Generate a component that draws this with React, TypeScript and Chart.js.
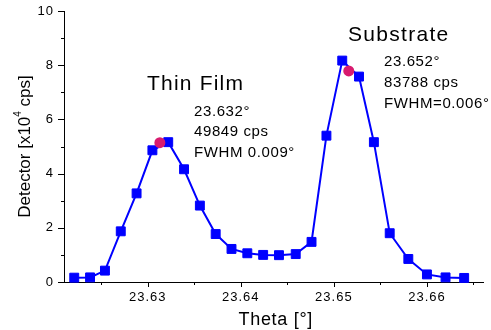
import React, { useEffect, useRef } from 'react';
import { Chart, registerables } from 'chart.js';

Chart.register(...registerables);

// ---- data ----
const thetaValues = [
  23.6221, 23.6238, 23.6254, 23.6271, 23.6288, 23.6305, 23.6322, 23.6339,
  23.6356, 23.6373, 23.639, 23.6407, 23.6424, 23.6441, 23.6459, 23.6476,
  23.6492, 23.6509, 23.6527, 23.6543, 23.656, 23.658, 23.66, 23.662, 23.664,
];
const detectorValues = [
  0.16, 0.17, 0.42, 1.87, 3.27, 4.86, 5.16, 4.16, 2.82, 1.77, 1.22, 1.06, 1.0,
  0.99, 1.03, 1.48, 5.4, 8.17, 7.58, 5.16, 1.8, 0.85, 0.28, 0.17, 0.15,
];
const peakTheta = [23.6313, 23.6516];
const peakDetector = [5.14, 7.79];

const xTickValues = [23.625, 23.63, 23.635, 23.64, 23.645, 23.65, 23.655, 23.66, 23.665];
const xTickLabels = ['23.63', '23.64', '23.65', '23.66'];
const yTickValues = [0, 1, 2, 3, 4, 5, 6, 7, 8, 9, 10];
const yTickLabels = ['0', '2', '4', '6', '8', '10'];

const thinFilmText = ['Thin Film', '23.632°', '49849 cps', 'FWHM 0.009°'];
const substrateText = ['Substrate', '23.652°', '83788 cps', 'FWHM=0.006°'];

// ---- style ----
const X_MIN = 23.621;
const X_MAX = 23.6661;
const BLUE = '#0000ff';
const PINK = '#d81b6f';
const FONT = '"Liberation Sans", Arial, sans-serif';

const xLabelOf = (v: number) => {
  const s = v.toFixed(2);
  return Math.abs(parseFloat(s) - v) < 1e-7 && xTickLabels.includes(s) ? s : '';
};
const yLabelOf = (v: number) => (yTickLabels.includes(String(v)) ? String(v) : '');

const drawSpaced = (
  ctx: CanvasRenderingContext2D,
  text: string,
  x: number,
  y: number,
  size: number,
  spacing: number
) => {
  ctx.font = `${size}px ${FONT}`;
  (ctx as any).letterSpacing = `${spacing}px`;
  ctx.fillText(text, x, y);
};

const zeroPad = (s: any) => {
  s.paddingTop = 0;
  s.paddingBottom = 0;
  s.paddingLeft = 0;
  s.paddingRight = 0;
};

const decorPlugin = {
  id: 'decor',
  beforeDraw(chart: any) {
    (chart.ctx as any).letterSpacing = '1px';
  },
  beforeDatasetsDraw(chart: any) {
    (chart.ctx as any).letterSpacing = '0px';
  },
  afterDraw(chart: any) {
    const ctx: CanvasRenderingContext2D = chart.ctx;
    const xs = chart.scales.x;
    const ys = chart.scales.y;
    ctx.save();
    ctx.strokeStyle = '#000';
    ctx.lineWidth = 1;
    // tick marks (major / minor)
    for (const t of xs.ticks) {
      const px = Math.round(xs.getPixelForValue(t.value)) + 0.5;
      const len = xLabelOf(t.value) ? 5 : 3;
      ctx.beginPath();
      ctx.moveTo(px, xs.top);
      ctx.lineTo(px, xs.top + len);
      ctx.stroke();
    }
    for (const t of ys.ticks) {
      const py = Math.round(ys.getPixelForValue(t.value)) + 0.5;
      const len = yLabelOf(t.value) ? 6 : 3;
      ctx.beginPath();
      ctx.moveTo(ys.right - len, py);
      ctx.lineTo(ys.right, py);
      ctx.stroke();
    }

    ctx.fillStyle = '#000';
    ctx.textAlign = 'left';
    ctx.textBaseline = 'alphabetic';

    // annotations
    drawSpaced(ctx, thinFilmText[0], 147, 89.5, 21, 1.2);
    drawSpaced(ctx, thinFilmText[1], 194, 115.5, 15, 0.6);
    drawSpaced(ctx, thinFilmText[2], 194, 136, 15, 0.6);
    drawSpaced(ctx, thinFilmText[3], 194, 157, 15, 0.6);
    drawSpaced(ctx, substrateText[0], 348, 41, 21, 1.3);
    drawSpaced(ctx, substrateText[1], 384, 65.5, 15, 0.6);
    drawSpaced(ctx, substrateText[2], 384, 86.5, 15, 0.6);
    drawSpaced(ctx, substrateText[3], 384, 107.5, 15, 0.6);

    // x title
    drawSpaced(ctx, 'Theta [°]', 238.5, 325, 18, 0.7);

    // y title with superscript
    (ctx as any).letterSpacing = '0px';
    const part1 = 'Detector [x10';
    const sup = '4';
    const part2 = ' cps]';
    ctx.font = `17px ${FONT}`;
    const w1 = ctx.measureText(part1).width;
    const w3 = ctx.measureText(part2).width;
    ctx.font = `10px ${FONT}`;
    const w2 = ctx.measureText(sup).width;
    const total = w1 + w2 + w3;
    const cy = (chart.chartArea.top + chart.chartArea.bottom) / 2;
    ctx.translate(29.5, cy);
    ctx.rotate(-Math.PI / 2);
    let x0 = -total / 2;
    ctx.font = `17px ${FONT}`;
    ctx.fillText(part1, x0, 0);
    x0 += w1;
    ctx.font = `10px ${FONT}`;
    ctx.fillText(sup, x0, -8.5);
    x0 += w2;
    ctx.font = `17px ${FONT}`;
    ctx.fillText(part2, x0, 0);
    ctx.restore();
  },
};

export default function App() {
  const ref = useRef<HTMLCanvasElement>(null);

  useEffect(() => {
    const canvas = ref.current;
    if (!canvas) return;
    const chart = new Chart(canvas, {
      type: 'scatter',
      data: {
        datasets: [
          {
            label: 'Peak',
            data: peakTheta.map((x, i) => ({ x, y: peakDetector[i] })),
            showLine: false,
            pointStyle: 'circle',
            pointRadius: 5.5,
            pointBackgroundColor: PINK,
            pointBorderColor: PINK,
            pointBorderWidth: 0,
            order: 0,
            clip: false,
          } as any,
          {
            label: 'Detector',
            data: thetaValues.map((x, i) => ({ x, y: detectorValues[i] })),
            showLine: true,
            borderColor: BLUE,
            borderWidth: 2,
            tension: 0,
            pointStyle: 'rect',
            pointRadius: 6.3,
            pointBackgroundColor: BLUE,
            pointBorderColor: BLUE,
            pointBorderWidth: 1,
            order: 1,
            clip: false,
          } as any,
        ],
      },
      options: {
        responsive: false,
        animation: false,
        devicePixelRatio: 1,
        events: [],
        layout: { padding: { top: 11, right: 1, left: 0, bottom: 0 } },
        plugins: {
          legend: { display: false },
          tooltip: { enabled: false },
        },
        scales: {
          x: {
            type: 'linear',
            min: X_MIN,
            max: X_MAX,
            grid: { display: false, drawTicks: false },
            border: { display: true, color: '#000', width: 1 },
            afterBuildTicks: (s: any) => {
              s.ticks = xTickValues.map((v) => ({ value: v }));
            },
            afterFit: (s: any) => {
              s.height = 48;
              zeroPad(s);
            },
            ticks: {
              autoSkip: false,
              maxRotation: 0,
              minRotation: 0,
              padding: 8,
              color: '#000',
              font: { family: FONT, size: 13 },
              callback: (v: any) => xLabelOf(Number(v)),
            },
          },
          y: {
            type: 'linear',
            min: 0,
            max: 10,
            grid: { display: false, drawTicks: false },
            border: { display: true, color: '#000', width: 1 },
            afterBuildTicks: (s: any) => {
              s.ticks = yTickValues.map((v) => ({ value: v }));
            },
            afterFit: (s: any) => {
              s.width = 64;
              zeroPad(s);
            },
            ticks: {
              autoSkip: false,
              padding: 10,
              color: '#000',
              font: { family: FONT, size: 13 },
              callback: (v: any) => yLabelOf(Number(v)),
            },
          },
        },
      } as any,
      plugins: [decorPlugin],
    });
    return () => chart.destroy();
  }, []);

  return (
    <div style={{ position: 'fixed', left: 0, top: 0, width: 491, height: 330, background: '#fff' }}>
      <canvas ref={ref} width={491} height={330} style={{ display: 'block', width: 491, height: 330 }} />
    </div>
  );
}
